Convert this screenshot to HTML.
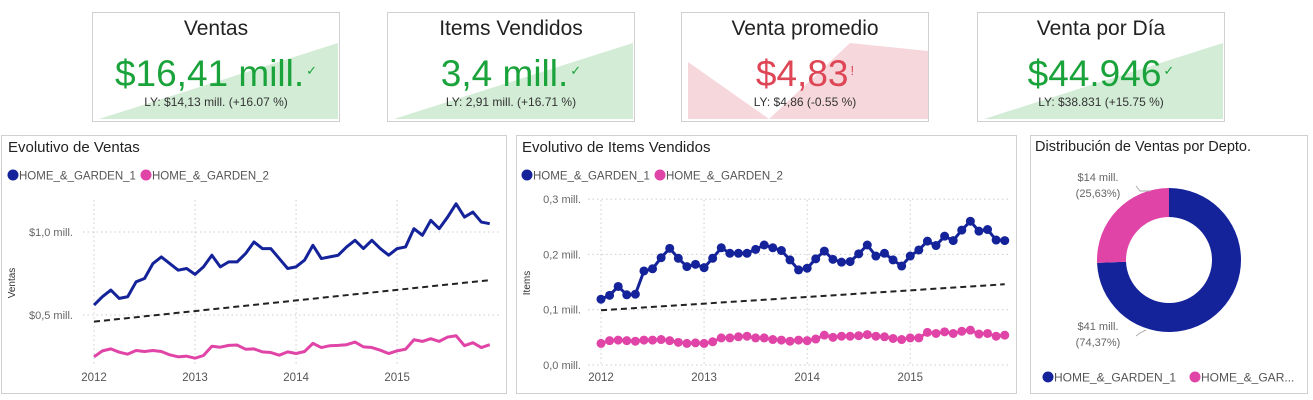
<!DOCTYPE html>
<html><head><meta charset="utf-8"><style>
body{margin:0;width:1313px;height:400px;background:#fff;font-family:"Liberation Sans",sans-serif;overflow:hidden;position:relative}
.card{position:absolute;top:12px;width:248px;height:110px;border:1px solid #d0d0d0;box-sizing:border-box;overflow:hidden;background:#fff}
.card svg{position:absolute;left:0;top:0}
.ct{position:absolute;left:0;right:0;top:4px;text-align:center;font-size:21px;color:#222}
.cv{position:absolute;left:0;right:0;top:40px;text-align:center;font-size:37px}
.cl{position:absolute;left:0;right:0;top:82px;text-align:center;font-size:12px;color:#333}
.mk{font-size:13px;vertical-align:top;position:relative;top:10px;margin-left:2px}
.panel{position:absolute;top:135px;height:259px;border:1px solid #d0d0d0;box-sizing:border-box}
</style></head><body>
<div class="card" style="left:92px">
<svg width="248" height="110"><polygon points="6,106 245,30 245,106" fill="#d2ecd6"/></svg>
<div class="ct">Ventas</div>
<div class="cv" style="color:#1aa33a">$16,41 mill.<span class="mk">✓</span></div>
<div class="cl">LY: $14,13 mill. (+16.07 %)</div></div>
<div class="card" style="left:387px">
<svg width="248" height="110"><polygon points="6,106 245,30 245,106" fill="#d2ecd6"/></svg>
<div class="ct">Items Vendidos</div>
<div class="cv" style="color:#1aa33a">3,4 mill.<span class="mk">✓</span></div>
<div class="cl">LY: 2,91 mill. (+16.71 %)</div></div>
<div class="card" style="left:681px">
<svg width="248" height="110"><polygon points="6,49 87,106 168,30 246,38 246,106 6,106" fill="#f6d7dc"/></svg>
<div class="ct">Venta promedio</div>
<div class="cv" style="color:#de4655">$4,83<span class="mk">!</span></div>
<div class="cl">LY: $4,86 (-0.55 %)</div></div>
<div class="card" style="left:977px">
<svg width="248" height="110"><polygon points="6,106 245,30 245,106" fill="#d2ecd6"/></svg>
<div class="ct">Venta por Día</div>
<div class="cv" style="color:#1aa33a">$44.946<span class="mk">✓</span></div>
<div class="cl">LY: $38.831 (+15.75 %)</div></div>

<div class="panel" style="left:1px;width:506px"></div>
<div class="panel" style="left:516px;width:501px"></div>
<div class="panel" style="left:1030px;width:278px"></div>
<svg id="s" width="1313" height="400" style="position:absolute;left:0;top:0" font-family="Liberation Sans, sans-serif"></svg>
<script>
const years=['2012','2013','2014','2015'];
const ventasH1=[0.56,0.61,0.65,0.60,0.61,0.70,0.72,0.81,0.85,0.81,0.77,0.78,0.745,0.79,0.86,0.79,0.82,0.82,0.87,0.94,0.90,0.90,0.84,0.78,0.79,0.83,0.92,0.84,0.85,0.86,0.91,0.95,0.90,0.95,0.90,0.86,0.90,0.91,1.02,0.98,1.07,1.02,1.09,1.17,1.09,1.12,1.06,1.05];
const ventasH2=[0.248,0.284,0.296,0.276,0.264,0.286,0.280,0.286,0.280,0.260,0.248,0.252,0.240,0.256,0.312,0.306,0.317,0.319,0.294,0.296,0.278,0.274,0.258,0.278,0.268,0.280,0.329,0.304,0.315,0.317,0.321,0.337,0.308,0.304,0.288,0.268,0.284,0.294,0.351,0.341,0.357,0.341,0.367,0.375,0.315,0.333,0.304,0.321];
const ventasTrend=[0.46,0.71];
const ventasTicks=[0.5,1.0];
const ventasTickLabels=['$0,5 mill.','$1,0 mill.'];
const itemsH1=[0.119,0.126,0.142,0.127,0.128,0.170,0.174,0.194,0.211,0.193,0.178,0.182,0.176,0.193,0.212,0.202,0.202,0.202,0.209,0.217,0.212,0.207,0.190,0.172,0.175,0.192,0.206,0.191,0.186,0.187,0.201,0.217,0.197,0.202,0.190,0.179,0.197,0.208,0.224,0.216,0.233,0.225,0.244,0.260,0.242,0.245,0.226,0.225];
const itemsH2=[0.039,0.044,0.045,0.044,0.043,0.045,0.045,0.046,0.044,0.041,0.039,0.040,0.039,0.042,0.049,0.049,0.051,0.052,0.049,0.049,0.046,0.045,0.043,0.045,0.044,0.047,0.054,0.050,0.052,0.052,0.053,0.055,0.052,0.051,0.048,0.046,0.049,0.049,0.059,0.057,0.060,0.057,0.061,0.063,0.056,0.057,0.052,0.054];
const itemsTrend=[0.099,0.146];
const itemsTicks=[0,0.1,0.2,0.3];
const itemsTickLabels=['0,0 mill.','0,1 mill.','0,2 mill.','0,3 mill.'];
const donutLabels=['HOME_&_GARDEN_1','HOME_&_GARDEN_2'];
const donutValues=[74.37,25.63];
const donutText=[['$41 mill.','(74,37%)'],['$14 mill.','(25,63%)']];
const C1='#15239a',C2='#e044a7';
const svg=document.getElementById('s');
const NS='http://www.w3.org/2000/svg';
function mk(t,a,p){const e=document.createElementNS(NS,t);for(const k in a)e.setAttribute(k,a[k]);(p||svg).appendChild(e);return e;}
function txt(x,y,s,a){const e=mk('text',Object.assign({x:x,y:y},a||{}));e.textContent=s;return e;}

function chart(o){
  const X=i=>o.x0+i*o.dx, Y=v=>o.y0-(v-o.vmin)*o.ky;
  const t=txt(o.tx,152,o.title,{'font-size':15,fill:'#222'});
  
  
  [[C1,'HOME_&_GARDEN_1',o.tx+5],[C2,'HOME_&_GARDEN_2',o.tx+138]].forEach(l=>{
    const c=mk('circle',{cx:l[2],cy:175,r:5.5,fill:l[0]});
    
    
    const lt=txt(l[2]+6,179.5,l[1],{'font-size':11.5,fill:'#555'});
    
    
  });
  o.ticks.forEach((v,i)=>{
    const g=mk('line',{x1:o.gx0,x2:o.gx1,y1:Y(v),y2:Y(v),stroke:'#ccc','stroke-dasharray':'1.5,3'});
    
    
    const l=txt(o.lx,Y(v)+4,o.tickLabels[i],{'font-size':11,fill:'#666','text-anchor':'end'});
    
    
  });
  years.forEach((y,i)=>{
    const x=X(i*12);
    const g=mk('line',{x1:x,x2:x,y1:200,y2:365,stroke:'#ccc','stroke-dasharray':'1.5,3'});
    
    
    const l=txt(x,381,y,{'font-size':11.5,fill:'#555','text-anchor':'middle'});
    
    
  });
  const at=txt(0,0,o.axis,{'font-size':10,fill:'#333','text-anchor':'middle',transform:`translate(${o.ax},283) rotate(-90)`});
  
  
  const n=o.s1.length;
  const tr=mk('line',{x1:X(0),x2:X(n-1),y1:Y(o.trend[0]),y2:Y(o.trend[1]),stroke:'#222','stroke-width':2,'stroke-dasharray':'6,4'});
  
  
  [[o.s1,C1,'series-home-garden-1'],[o.s2,C2,'series-home-garden-2']].forEach(s=>{
    const p=mk('polyline',{points:s[0].map((v,i)=>X(i)+','+Y(v)).join(' '),fill:'none',stroke:s[1],'stroke-width':3,'stroke-linejoin':'round'});
    
    
    if(o.markers) s[0].forEach((v,i)=>{
      const c=mk('circle',{cx:X(i),cy:Y(v),r:4.5,fill:s[1]});
      
      
    });
  });
}
chart({title:'Evolutivo de Ventas',tx:8,x0:94,dx:8.42,y0:315,vmin:0.5,ky:166,gx0:83,gx1:500,lx:73,ax:15,axis:'Ventas',ticks:ventasTicks,tickLabels:ventasTickLabels,s1:ventasH1,s2:ventasH2,trend:ventasTrend,markers:false});
chart({title:'Evolutivo de Items Vendidos',tx:522,x0:601,dx:8.59,y0:365,vmin:0,ky:553,gx0:588,gx1:1010,lx:581,ax:530,axis:'Items',ticks:itemsTicks,tickLabels:itemsTickLabels,s1:itemsH1,s2:itemsH2,trend:itemsTrend,markers:true});

const dt=txt(1035,151,'Distribución de Ventas por Depto.',{'font-size':14.5,fill:'#222'});


const cx=1169,cy=260,R=72,r=43;
const tot=donutValues.reduce((a,b)=>a+b,0);
let a0=-Math.PI/2;
donutValues.forEach((v,i)=>{
  const a1=a0+v/tot*2*Math.PI, lg=(a1-a0)>Math.PI?1:0;
  const p=(rr,a)=>(cx+rr*Math.cos(a)).toFixed(2)+','+(cy+rr*Math.sin(a)).toFixed(2);
  const e=mk('path',{d:`M${p(R,a0)} A${R},${R} 0 ${lg} 1 ${p(R,a1)} L${p(r,a1)} A${r},${r} 0 ${lg} 0 ${p(r,a0)} Z`,fill:i?C2:C1});
  
  
  a0=a1;
});
[[donutText[1],1098,181,'1136,186 1140,191 1150,191'],[donutText[0],1098,330,'1136,336 1140,333 1146,330']].forEach(d=>{
  const l=mk('polyline',{points:d[3],fill:'none',stroke:'#aaa'});
  
  
  const t1=txt(d[1],d[2],d[0][0],{'font-size':11,fill:'#666','text-anchor':'middle'});
  
  
  const t2=txt(d[1],d[2]+16,d[0][1],{'font-size':11,fill:'#666','text-anchor':'middle'});
  
  
});
[[C1,donutLabels[0],1048],[C2,'HOME_&_GAR...',1195]].forEach(l=>{
  const c=mk('circle',{cx:l[2],cy:377,r:5.5,fill:l[0]});
  
  
  const t=txt(l[2]+6,381.5,l[1],{'font-size':12,fill:'#555'});
  
  
});
</script>
</body></html>
